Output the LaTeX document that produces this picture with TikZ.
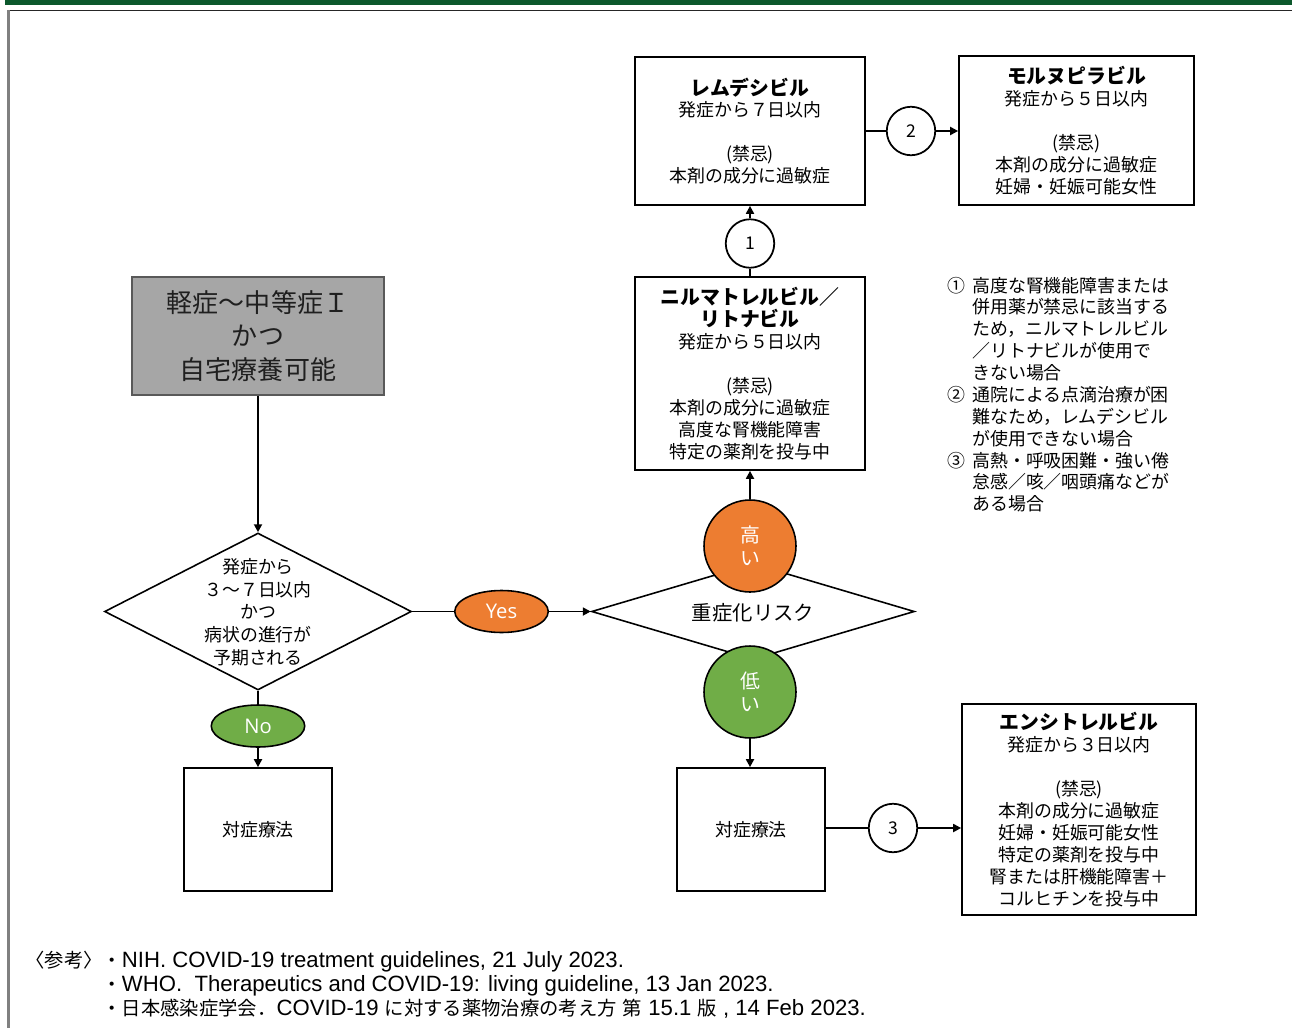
\documentclass[tikz,border=0pt]{standalone}
\usepackage{fontspec}
\setmainfont{Noto Sans CJK JP}
\newfontfamily\latinfont{Open Sans}
\newfontfamily\reflat{Liberation Sans}
\usetikzlibrary{shapes.geometric,arrows.meta}
\definecolor{orng}{HTML}{ED7D31}
\definecolor{grn}{HTML}{70AD47}
\definecolor{barg}{RGB}{12,88,44}
\definecolor{grayfill}{HTML}{A6A6A6}
\definecolor{grayedge}{HTML}{595959}
\newcommand\ttl[1]{{\fontsize{11.3}{14.5}\selectfont\bfseries #1}}
\newcommand\rl[1]{{\reflat\fontsize{12.6}{13.6}\selectfont #1}}
\tikzset{
  base/.style={font=\fontsize{10.2}{12.5}\selectfont, align=center, inner sep=0pt, text=black},
  drugbox/.style={base, draw, line width=1pt, minimum width=4.6cm},
  symbox/.style={base, draw, line width=1pt, minimum width=2.96cm, minimum height=2.46cm},
  decision/.style={draw, line width=0.9pt, shape=diamond, inner sep=0pt, fill=white},
  yesno/.style={ellipse, draw, line width=0.9pt, minimum width=1.87cm, minimum height=0.84cm, inner sep=0pt, text=white, font=\latinfont\fontsize{11.5}{13}\selectfont},
  risk/.style={circle, draw, line width=0.9pt, minimum size=1.84cm, inner sep=0pt, text=white, align=center, font=\fontsize{11.3}{13}\selectfont},
  numc/.style={circle, draw, line width=1pt, minimum size=0.97cm, inner sep=0pt, fill=white, font=\fontsize{10}{12}\selectfont},
  conn/.style={line width=1.1pt},
  arr/.style={line width=1.1pt, -{Triangle[length=4.5pt,width=4.5pt]}}
}
\begin{document}
\begin{tikzpicture}[x=0.02cm,y=-0.02cm]
\useasboundingbox (0,0) rectangle (1292,1028);
% frame
\fill[barg] (5,0) rectangle (1292,4.5);
\draw[line width=0.9pt, black!85] (8,10.5) -- (1292,10.5);
\draw[line width=1.2pt, black!50] (8.5,10) -- (8.5,1028);

% start box
\node[base, draw=grayedge, fill=grayfill, line width=1pt, minimum width=5.04cm, minimum height=2.36cm, text=black!88,
      font=\fontsize{14.8}{19}\selectfont] (start) at (258,336) {軽症〜中等症Ｉ\\かつ\\自宅療養可能};

% left decision
\node[decision, minimum width=6.14cm, minimum height=3.14cm] (d1) at (258,611.5) {};
\node[base, font=\fontsize{10.2}{12.9}\selectfont] (d1t) at (258,612) {発症から\\３〜７日以内\\かつ\\病状の進行が\\予期される};

\node[yesno, fill=orng] (yes) at (501.5,611.5) {Yes};
\node[yesno, fill=grn] (no) at (258,726) {No};

\node[symbox] (sym1) at (258,829.5) {対症療法};
\node[symbox] (sym2) at (751,829.5) {対症療法};

% right decision
\node[decision, minimum width=6.46cm, minimum height=1.92cm] (d2) at (753,611.5) {};
\node[base, font=\fontsize{11.6}{14}\selectfont] (d2t) at (753,613) {重症化リスク};
\node[risk, fill=orng] (high) at (750,546) {高\\い};
\node[risk, fill=grn] (low) at (750,692) {低\\い};

% drug boxes
\node[drugbox, minimum height=3.86cm] (nirm) at (750,373.5)
  {\ttl{ニルマトレルビル／}\\\ttl{リトナビル}\\発症から５日以内\\[12.5pt](禁忌)\\本剤の成分に過敏症\\高度な腎機能障害\\特定の薬剤を投与中};
\node[drugbox, minimum height=2.96cm] (rem) at (750,131)
  {\ttl{レムデシビル}\\発症から７日以内\\[12.5pt](禁忌)\\本剤の成分に過敏症};
\node[drugbox, minimum width=4.7cm, minimum height=2.98cm] (mol) at (1076.5,130.5)
  {\ttl{モルヌピラビル}\\発症から５日以内\\[12.5pt](禁忌)\\本剤の成分に過敏症\\妊婦・妊娠可能女性};
\node[drugbox, minimum width=4.68cm, minimum height=4.22cm] (ens) at (1079,809.5)
  {\ttl{エンシトレルビル}\\発症から３日以内\\[12.5pt](禁忌)\\本剤の成分に過敏症\\妊婦・妊娠可能女性\\特定の薬剤を投与中\\腎または肝機能障害＋\\コルヒチンを投与中};

\node[numc] (c1) at (750,243.5) {1};
\node[numc] (c2) at (911,131) {2};
\node[numc] (c3) at (893,828) {3};

% connectors
\draw[arr] (start.south) -- (d1.north);
\draw[conn] (d1.east) -- (yes.west);
\draw[arr] (yes.east) -- (yes.east -| d2.west);
\draw[conn] (d1.south) -- (no.north);
\draw[arr] (no.south) -- (sym1.north);
\draw[arr] (high.north) -- (nirm.south);
\draw[arr] (low.south) -- (low.south |- sym2.north);
\draw[conn] (nirm.north) -- (c1.south);
\draw[arr] (c1.north) -- (rem.south);
\draw[conn] (rem.east) -- (c2.west);
\draw[arr] (c2.east) -- (c2.east -| mol.west);
\draw[conn] (c3.west -| sym2.east) -- (c3.west);
\draw[arr] (c3.east) -- (c3.east -| ens.west);

% notes
\node[anchor=west, inner sep=0pt, font=\fontsize{10.2}{12.45}\selectfont] (notes) at (947,397) {%
\begin{tabular}{@{}l@{\hspace{4pt}}l@{}}
① & 高度な腎機能障害または\\
  & 併用薬が禁忌に該当する\\
  & ため，ニルマトレルビル\\
  & ／リトナビルが使用で\\
  & きない場合\\
② & 通院による点滴治療が困\\
  & 難なため，レムデシビル\\
  & が使用できない場合\\
③ & 高熱・呼吸困難・強い倦\\
  & 怠感／咳／咽頭痛などが\\
  & ある場合
\end{tabular}};

% references
\node[anchor=west, inner sep=0pt, font=\fontsize{11}{13.6}\selectfont] (refs) at (25,986.5) {%
\begin{tabular}{@{}l@{}l@{}}
〈参考〉 & ・\rl{NIH. COVID-19 treatment guidelines, 21 July 2023.}\\
  & ・\rl{WHO.\ \ Therapeutics and COVID-19: living guideline, 13 Jan 2023.}\\
  & ・日本感染症学会．\rl{COVID-19 }に対する薬物治療の考え方\rl{ }第\rl{ 15.1 }版\rl{ , 14 Feb 2023.}
\end{tabular}};
\end{tikzpicture}
\end{document}
